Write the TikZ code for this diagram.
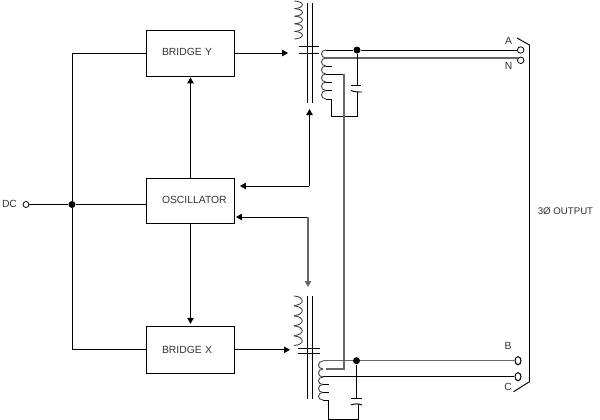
\documentclass[tikz,border=0pt]{standalone}
\usepackage{fontspec}
\setmainfont{Liberation Sans}
\usetikzlibrary{arrows.meta, positioning, calc, shapes.geometric}
\tikzset{
  blockbox/.style={draw, line width=0.55pt, minimum width=1.768cm, minimum height=0.92cm, inner ysep=0pt, inner xsep=0.314cm, text width=1.14cm, align=left, font=\fontsize{5.9}{7}\selectfont, text=black!80},
  labeltxt/.style={inner sep=0pt, font=\fontsize{5.9}{7}\selectfont, text=black!80},
  wire/.style={line width=0.55pt},
  greywire/.style={line width=0.65pt, black!60},
  coilwire/.style={line width=0.5pt, black!75},
  terminal/.style={circle, draw, line width=0.45pt, minimum size=0.13cm, inner sep=0pt, fill=white},
  junction/.style={circle, fill=black, minimum size=0.14cm, inner sep=0pt},
  ovalterm/.style={ellipse, draw, line width=0.6pt, minimum width=0.12cm, minimum height=0.16cm, inner sep=0pt, fill=white},
}
\begin{document}
\begin{tikzpicture}[x=0.02cm, y=-0.02cm, >={Triangle[length=0.12cm, width=0.13cm]}]
\useasboundingbox (0,0) rectangle (600,420);
% blocks
\node[blockbox] (bridgey) at (190.5,53) {\raisebox{0.03cm}{BRIDGE Y}};
\node[blockbox, minimum height=0.9cm] (osc) at (190.5,201) {\raisebox{0.04cm}{OSCILLATOR}};
\node[blockbox, minimum height=0.94cm] (bridgex) at (190.5,349.8) {BRIDGE X};
% input
\node[labeltxt] (dclabel) at (9.5,204) {DC};
\node[terminal, minimum size=0.12cm] (dcin) at (26,204.5) {};
\node[junction] (dcdot) at (72,204.5) {};
\draw[wire] (dcin) -- (dcdot);
\draw[wire] (dcdot) -- (osc.west |- dcdot);
\draw[wire] (dcdot) |- (bridgey.west);
\draw[wire] (dcdot) |- (bridgex.west);
\draw[wire, ->] (osc.north) -- ($(bridgey.south)+(0,1)$);
\draw[wire, ->] (osc.south) -- ($(bridgex.north)+(0,-2)$);
% transformer Y
\coordinate (ytipin) at (288,53);
\coordinate (yfeed) at (309.5,109);
\draw[wire] (307,3) -- (307,103);
\draw[wire] (312,3) -- (312,103);
\draw[wire] (299,46) -- (319,46);
\draw[wire] (299,53) -- (319,53);
\foreach \y in {1,8.6,16.2,23.8,31.4}
  \draw[coilwire] (294.5,\y) .. controls (305,\y+0.5) and (305,\y+7) .. (294.5,\y+7.6);
\draw[wire, ->] (bridgey.east) -- (ytipin);
% secondary Y
\foreach \a/\b in {50/58,58/66,66/74,74/82,82/90.5,90.5/99}
  \draw[coilwire] (326,\a) .. controls (320,\a) and (320,\b) .. (326,\b);
\foreach \y in {66,82,90.5}
  \draw[wire] (326,\y) -- (332,\y);
\coordinate (ysecend) at (331,99);
\coordinate (ytap) at (344,74);
\node[junction] (ydot) at (357,50) {};
\node[terminal] (termA) at (520.7,50) {};
\node[terminal] (termN) at (520.7,60.3) {};
\draw[wire] (326,50) -- (ydot) -- (termA);
\draw[greywire] (326,58) -- (518,58);
\coordinate (ycapa) at (357,85);
\coordinate (ycapb) at (357,92);
\coordinate (ycapend) at (357,116);
\draw[wire] (ydot) -- (ycapa);
\draw[wire] (351,85) -- (361,85);
\draw[wire] (351,90.5) .. controls (354,92) and (358,92) .. (362,92);
\draw[wire] (ycapb) -- (ycapend) -- (ysecend |- ycapend) -- (ysecend) -- (326,99);
% tie line
\coordinate (xtap) at (326,369);
\draw[wire] (326,74) -- (ytap);
\draw[greywire] (ytap) -- (ytap |- xtap) -- (xtap);
% feedback
\coordinate (yfeedbend) at (309.5,186);
\coordinate (xfeed) at (308,287);
\coordinate (xfeedbend) at (308,217);
\draw[wire, ->] (yfeedbend) -- (240,186);
\draw[wire, ->] (yfeedbend) -- (yfeed);
\draw[wire, ->] (xfeedbend) -- (236,217);
\draw[greywire, ->] (xfeedbend) -- (xfeed);
% transformer X
\draw[wire] (307,296) -- (307,399);
\draw[wire] (312,296) -- (312,399);
\draw[wire] (298,348) -- (320,348);
\draw[wire] (298,353) -- (320,353);
\foreach \y in {296,306,316,326,336}
  \draw[coilwire] (294,\y) .. controls (305,\y+0.5) and (305,\y+9) .. (294,\y+9.5);
\coordinate (xtipin) at (290,349.8);
\draw[wire, ->] (bridgex.east) -- (xtipin);
% secondary X
\foreach \a/\b in {361/369,369/377,377/384.5,384.5/392.5,392.5/400}
  \draw[coilwire] (323,\a) .. controls (317,\a) and (317,\b) .. (323,\b);
\foreach \y in {384.5,392.5}
  \draw[wire] (323,\y) -- (329,\y);
\node[junction] (xdot) at (356.5,360.7) {};
\node[ovalterm] (termB) at (518,360.7) {};
\node[ovalterm] (termC) at (518,376.7) {};
\draw[greywire] (323,360.7) -- (xdot) -- (termB);
\draw[wire] (323,376.7) -- (termC);
\coordinate (xcapa) at (358,398.7);
\coordinate (xcapb) at (358,404);
\coordinate (xcapend) at (358,419.3);
\coordinate (xsecend) at (328,400);
\draw[wire] (xdot) -- (xdot |- xcapa) -- (xcapa);
\draw[wire] (351,398.7) -- (362,398.7);
\draw[wire] (351,405) .. controls (354,403.5) and (359,403.5) .. (362,405);
\draw[wire] (xcapb) -- (xcapend) -- (xsecend |- xcapend) -- (xsecend) -- (323,400);
% output bracket
\coordinate (brtop) at (529.5,45);
\coordinate (brbot) at (529.5,381.7);
\draw[wire] (517,38) -- (brtop) -- (brbot) -- (513.5,391.7);
\node[labeltxt] (labelA) at (508.5,41) {A};
\node[labeltxt] (labelN) at (508.5,65.5) {N};
\node[labeltxt] (labelB) at (508,346) {B};
\node[labeltxt] (labelC) at (508,386.7) {C};
\node[labeltxt, font=\fontsize{5.5}{7}\selectfont] (outlabel) at (565.5,211) {3Ø OUTPUT};
\end{tikzpicture}
\end{document}
